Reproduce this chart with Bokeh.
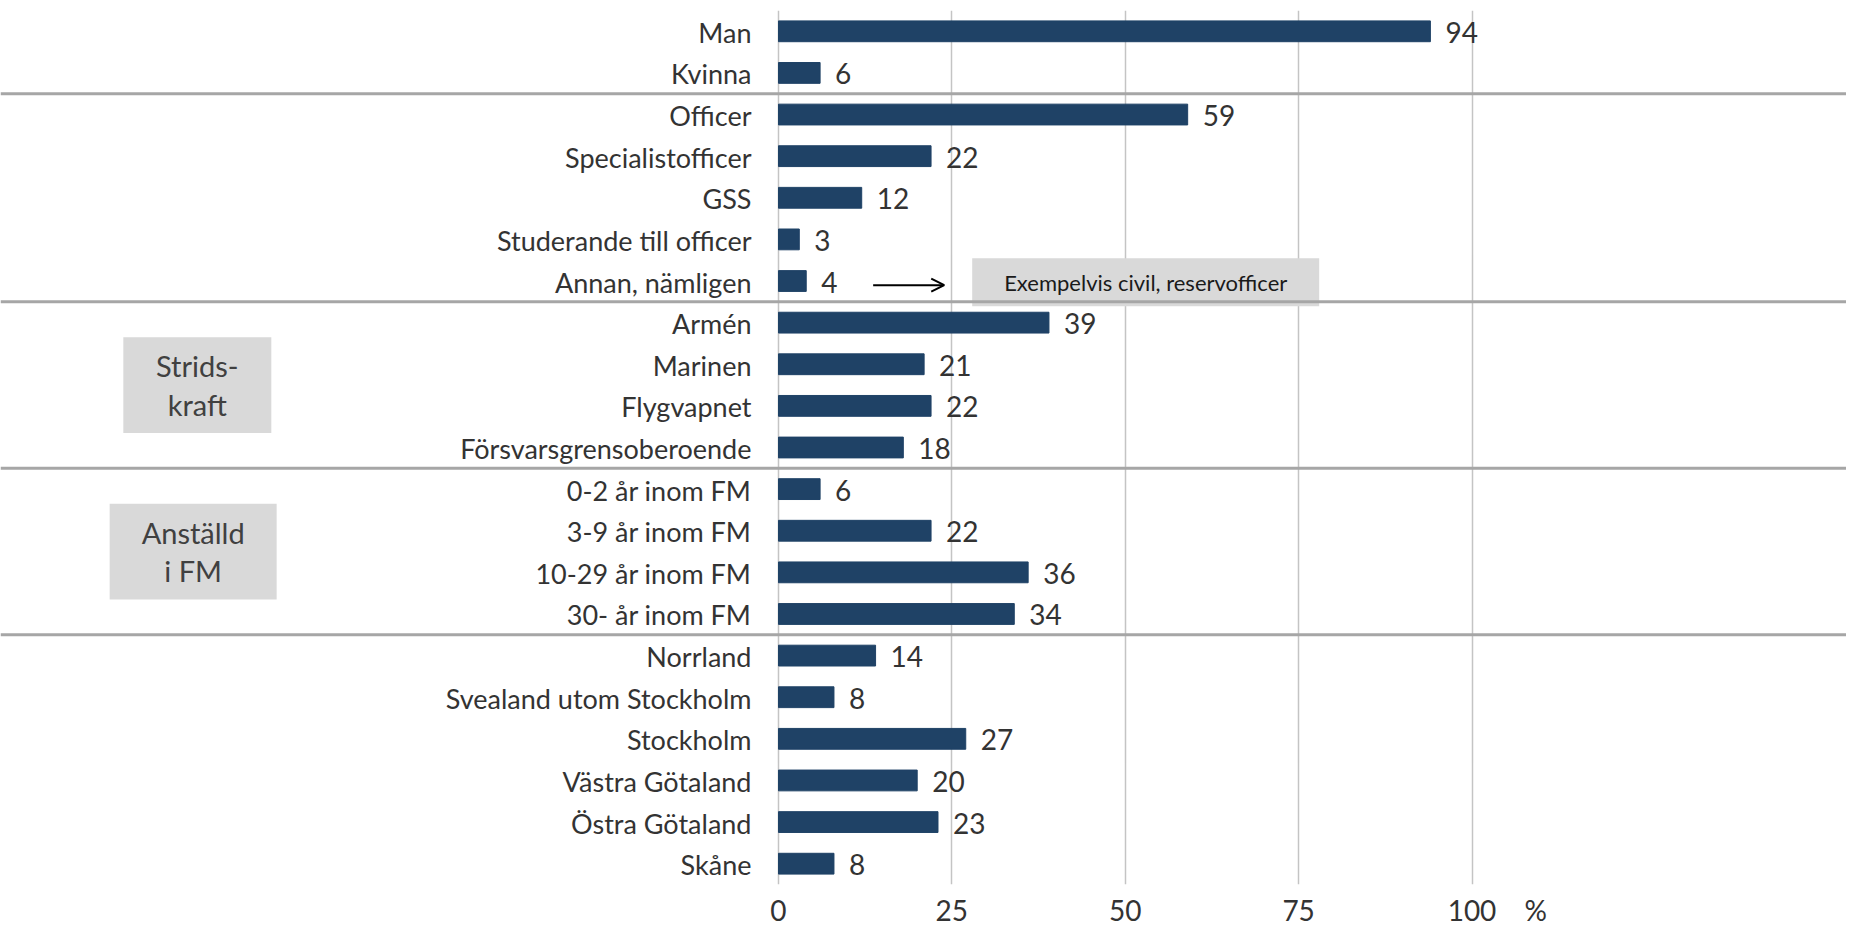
from bokeh.plotting import figure
from bokeh.models import (Range1d, FactorRange, FixedTicker, Span, Arrow,
                          OpenHead, ColumnDataSource)
from bokeh.core.properties import value
from bokeh.embed import file_html
from bokeh.resources import INLINE

# ---------------- data ----------------
categories = ["Man", "Kvinna",
              "Officer", "Specialistofficer", "GSS", "Studerande till officer", "Annan, nämligen",
              "Armén", "Marinen", "Flygvapnet", "Försvarsgrensoberoende",
              "0-2 år inom FM", "3-9 år inom FM", "10-29 år inom FM", "30- år inom FM",
              "Norrland", "Svealand utom Stockholm", "Stockholm", "Västra Götaland",
              "Östra Götaland", "Skåne"]
values = [94, 6, 59, 22, 12, 3, 4, 39, 21, 22, 18, 6, 22, 36, 34, 14, 8, 27, 20, 23, 8]
group_sizes = [2, 5, 4, 4, 6]
group_titles = ["", "", "Strids-\nkraft", "Anställd\ni FM", ""]
x_ticks = [0, 25, 50, 75, 100]
unit_label = "%"
unit_pos = 109.2
note_text = "Exempelvis civil, reservofficer"
note_category = "Annan, nämligen"

FONT = "Lato"
TXT = "#333333"
BAR = "#1f4266"

n = len(categories)
def syn(k):  # synthetic y-centre of category k (top-based)
    return n - k - 0.5

src = ColumnDataSource(dict(cat=categories, val=values, lbl=[str(v) for v in values]))

p = figure(width=1846, height=929,
           x_range=Range1d(-112.18, 154.0),
           y_range=FactorRange(factors=categories[::-1], range_padding=0, factor_padding=0),
           y_axis_location=None, output_backend="svg", toolbar_location=None,
           min_border_left=0, min_border_right=0, min_border_top=10, min_border_bottom=41)
p.outline_line_color = None
p.background_fill_color = "white"
p.border_fill_color = "white"

# grid
p.ygrid.visible = False
p.xgrid.ticker = FixedTicker(ticks=x_ticks)
p.xgrid.grid_line_color = "#c4c4c4"
p.xgrid.grid_line_width = 1.5

# x axis (with the unit sign as an extra tick label)
p.xaxis.ticker = FixedTicker(ticks=x_ticks + [unit_pos])
p.xaxis.major_label_overrides = {unit_pos: unit_label}
p.xaxis.axis_line_color = None
p.xaxis.major_tick_line_color = None
p.xaxis.minor_tick_line_color = None
p.xaxis.major_tick_out = 0
p.xaxis.major_label_text_font = FONT
p.xaxis.major_label_text_font_size = "28px"
p.xaxis.major_label_text_color = TXT
p.xaxis.major_label_standoff = 8

# separators between groups
pos = 0
for g in group_sizes[:-1]:
    pos += g
    p.add_layout(Span(location=n - pos, dimension="width", line_color="#a6a6a6", line_width=3))

# bars
p.hbar(y="cat", left=0, right="val", height=0.5, source=src, fill_color=BAR, line_color=BAR)

# value labels
p.text(x="val", y="cat", text="lbl", source=src, x_offset=15, y_offset=1,
       text_baseline="middle", text_align="left", text_font=value(FONT),
       text_font_size="28px", text_color=TXT)

# category labels
p.text(x=0, y="cat", text="cat", source=src, x_offset=-27, y_offset=1,
       text_baseline="middle", text_align="right", text_font=value(FONT),
       text_font_size="27px", text_color=TXT)

# group title boxes
start = 0
bx, by, bw, bt = [], [], [], []
for g, t in zip(group_sizes, group_titles):
    if t:
        bx.append(-83.8 if len(bt) == 0 else -84.4)
        by.append(syn(start) - (g - 1) / 2)
        bw.append(148 if len(bt) == 0 else 167)
        bt.append(t)
    start += g
p.rect(x=bx, y=by, width=bw, width_units="screen", height=2.3,
       fill_color="#d9d9d9", line_color=None)
p.text(x=bx, y=by, text=bt, text_align="center", text_baseline="middle",
       text_font=value(FONT), text_font_size="29px", text_color="#404040",
       text_line_height=1.1)

# note box with arrow
k = categories.index(note_category)
p.rect(x=[52.95], y=[syn(k) - 0.03], width=347, width_units="screen",
       height=48, height_units="screen", fill_color="#d9d9d9", line_color=None)
p.text(x=[52.95], y=[syn(k) - 0.03], text=[note_text], text_align="center",
       text_baseline="middle", text_font=value(FONT), text_font_size="22px",
       text_color="#1a1a1a")
p.add_layout(Arrow(x_start=13.65, x_end=23.9, y_start=syn(k) - 0.1, y_end=syn(k) - 0.1,
                   line_color="black", line_width=2,
                   end=OpenHead(size=13, line_color="black", line_width=2)))

open("out.html", "w").write(file_html(p, INLINE))
